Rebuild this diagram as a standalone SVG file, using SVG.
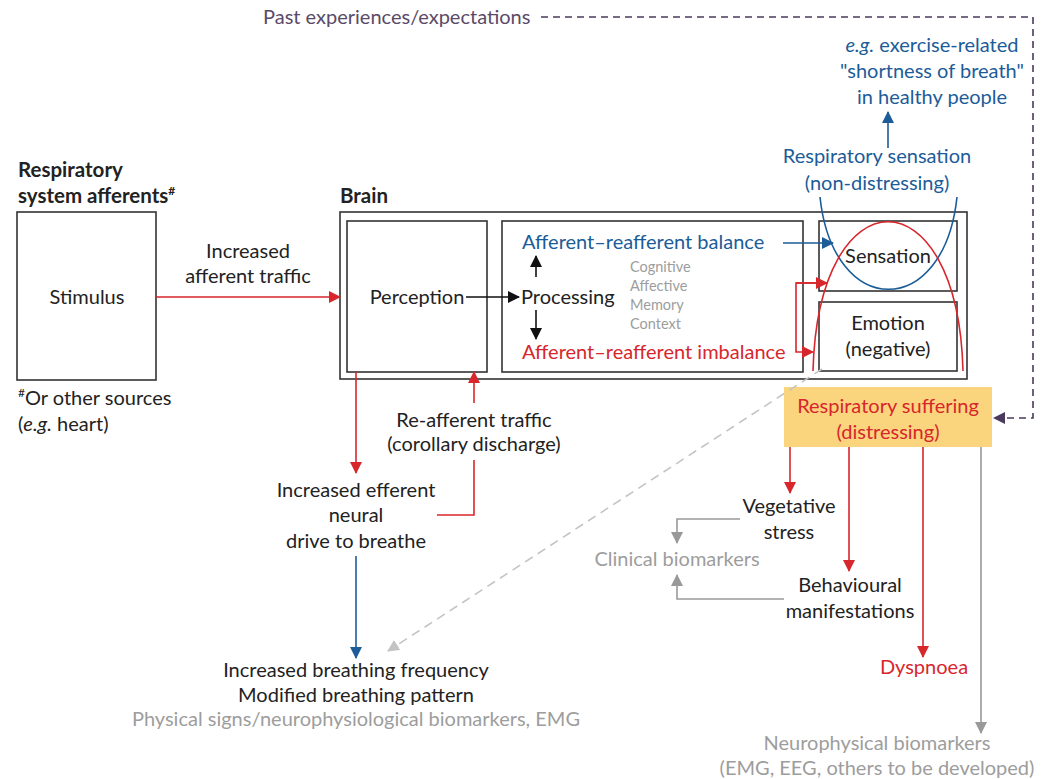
<svg xmlns="http://www.w3.org/2000/svg" width="1046" height="779" viewBox="0 0 1046 779">
<style>
text{font-family:Lato,"Source Sans Pro","Liberation Sans",sans-serif;font-size:20px;fill:#222}
.c{text-anchor:middle}
.b{font-weight:bold;font-size:20.5px}
.blue{fill:#1b5c99}
.red{fill:#d7262c}
.gray{fill:#9d9d9d}
.purple{fill:#5a4a68}
.sm{font-size:14.5px}
.box{fill:#fff;stroke:#333;stroke-width:1.6}
.ln{fill:none;stroke-width:1.6}
.r{stroke:#d7262c}
.bl{stroke:#1b5c99}
.k{stroke:#111}
.g{stroke:#999}
</style>
<defs>
<marker id="ar" markerUnits="userSpaceOnUse" markerWidth="14" markerHeight="14" refX="11" refY="6" orient="auto"><path d="M0,0L12,6L0,12z" fill="#d7262c"/></marker>
<marker id="ab" markerUnits="userSpaceOnUse" markerWidth="14" markerHeight="14" refX="11" refY="6" orient="auto"><path d="M0,0L12,6L0,12z" fill="#1b5c99"/></marker>
<marker id="ak" markerUnits="userSpaceOnUse" markerWidth="14" markerHeight="14" refX="11" refY="6" orient="auto"><path d="M0,0L12,6L0,12z" fill="#111"/></marker>
<marker id="ag" markerUnits="userSpaceOnUse" markerWidth="14" markerHeight="14" refX="11" refY="6" orient="auto"><path d="M0,0L12,6L0,12z" fill="#999"/></marker>
<marker id="alg" markerUnits="userSpaceOnUse" markerWidth="14" markerHeight="14" refX="11" refY="6" orient="auto"><path d="M0,0L12,6L0,12z" fill="#c4c4c4"/></marker>
<marker id="ap" markerUnits="userSpaceOnUse" markerWidth="14" markerHeight="14" refX="11" refY="6" orient="auto"><path d="M0,0L12,6L0,12z" fill="#4b3a5c"/></marker>
</defs>

<g id="past">
<text class="purple" x="263" y="24">Past experiences/expectations</text>
</g>
<g id="healthy">
<text class="blue c" x="932" y="52"><tspan font-style="italic">e.g.</tspan> exercise-related</text>
<text class="blue c" x="932" y="78">"shortness of breath"</text>
<text class="blue c" x="932" y="104">in healthy people</text>
</g>
<g id="resp-sensation">
<text class="blue c" x="877" y="163">Respiratory sensation</text>
<text class="blue c" x="877" y="190">(non-distressing)</text>
</g>

<g id="afferents">
<text class="b" x="18" y="177">Respiratory</text>
<text class="b" x="18" y="203">system afferents<tspan font-size="12" dy="-8">#</tspan></text>
<rect class="box" x="17" y="212" width="139" height="168"/>
<text class="c" x="87" y="304">Stimulus</text>
<text x="18" y="405"><tspan font-size="12" dy="-8">#</tspan><tspan dy="8">Or other sources</tspan></text>
<text x="18" y="431">(<tspan font-style="italic">e.g.</tspan> heart)</text>
</g>

<g id="brain">
<text class="b" x="340" y="203">Brain</text>
<rect class="box" x="340" y="212" width="627" height="167"/>
</g>
<g id="perception">
<rect class="box" x="347" y="221" width="140" height="151"/>
<text class="c" x="417" y="304">Perception</text>
</g>
<g id="processing">
<rect class="box" x="502" y="221" width="301" height="151"/>
<text x="521" y="304">Processing</text>
<text class="blue" x="522" y="249">Afferent–reafferent balance</text>
<text class="red" x="522" y="359">Afferent–reafferent imbalance</text>
<text class="gray sm" x="630" y="272">Cognitive</text>
<text class="gray sm" x="630" y="291">Affective</text>
<text class="gray sm" x="630" y="310">Memory</text>
<text class="gray sm" x="630" y="329">Context</text>
</g>
<g id="sensation">
<rect class="box" x="819" y="221" width="138" height="70"/>
<text class="c" x="888" y="263">Sensation</text>
</g>
<g id="emotion">
<rect class="box" x="819" y="302" width="138" height="69"/>
<text class="c" x="888" y="330">Emotion</text>
<text class="c" x="888" y="356">(negative)</text>
</g>
<g id="suffering">
<rect x="784" y="387" width="208" height="60" fill="#fad57e"/>
<text class="red c" x="888" y="413">Respiratory suffering</text>
<text class="red c" x="888" y="439">(distressing)</text>
</g>

<g id="labels">
<text class="c" x="248" y="258">Increased</text>
<text class="c" x="248" y="283">afferent traffic</text>
<text class="c" x="474" y="427">Re-afferent traffic</text>
<text class="c" x="474" y="451">(corollary discharge)</text>
<text class="c" x="356" y="497">Increased efferent</text>
<text class="c" x="356" y="522">neural</text>
<text class="c" x="356" y="548">drive to breathe</text>
<text class="c" x="356" y="677">Increased breathing frequency</text>
<text class="c" x="356" y="702">Modified breathing pattern</text>
<text class="gray c" x="356" y="726">Physical signs/neurophysiological biomarkers, EMG</text>
<text class="c" x="789" y="513">Vegetative</text>
<text class="c" x="789" y="539">stress</text>
<text class="gray c" x="677" y="566">Clinical biomarkers</text>
<text class="c" x="850" y="592">Behavioural</text>
<text class="c" x="850" y="618">manifestations</text>
<text class="red c" x="924" y="674">Dyspnoea</text>
<text class="gray c" x="877" y="750">Neurophysical biomarkers</text>
<text class="gray c" x="877" y="775">(EMG, EEG, others to be developed)</text>
</g>

<g id="connectors">
<path class="ln" stroke="#4b3a5c" stroke-dasharray="7,5" d="M541,17H1033V418H994" marker-end="url(#ap)"/>
<path class="ln bl" d="M888,148V112" marker-end="url(#ab)"/>
<path class="ln bl" d="M820,197C833,320 944,320 957,197"/>
<path class="ln r" d="M813,371C818,172 958,172 963,371"/>
<path class="ln r" d="M156,297H340" marker-end="url(#ar)"/>
<path class="ln k" d="M466,297H519" marker-end="url(#ak)"/>
<path class="ln k" d="M536,277V256" marker-end="url(#ak)"/>
<path class="ln k" d="M536,310V339" marker-end="url(#ak)"/>
<path class="ln bl" d="M783,243H833" marker-end="url(#ab)"/>
<path class="ln r" d="M827,283H796V352H813" marker-end="url(#ar)"/>
<path class="ln r" d="M796,283H827" marker-end="url(#ar)"/>
<path class="ln" stroke="#c4c4c4" stroke-dasharray="9,6" d="M822,369L388,651" marker-end="url(#alg)"/>
<path class="ln r" d="M356,372V473" marker-end="url(#ar)"/>
<path class="ln r" d="M437,515H474V460"/>
<path class="ln r" d="M474,403V372" marker-end="url(#ar)"/>
<path class="ln bl" d="M356,556V658" marker-end="url(#ab)"/>
<path class="ln r" d="M790,447V493" marker-end="url(#ar)"/>
<path class="ln r" d="M849,447V571" marker-end="url(#ar)"/>
<path class="ln r" d="M923,447V657" marker-end="url(#ar)"/>
<path class="ln g" d="M981,447V733" marker-end="url(#ag)"/>
<path class="ln g" d="M740,519H677V543" marker-end="url(#ag)"/>
<path class="ln g" d="M784,599H677V575" marker-end="url(#ag)"/>
</g>
</svg>
